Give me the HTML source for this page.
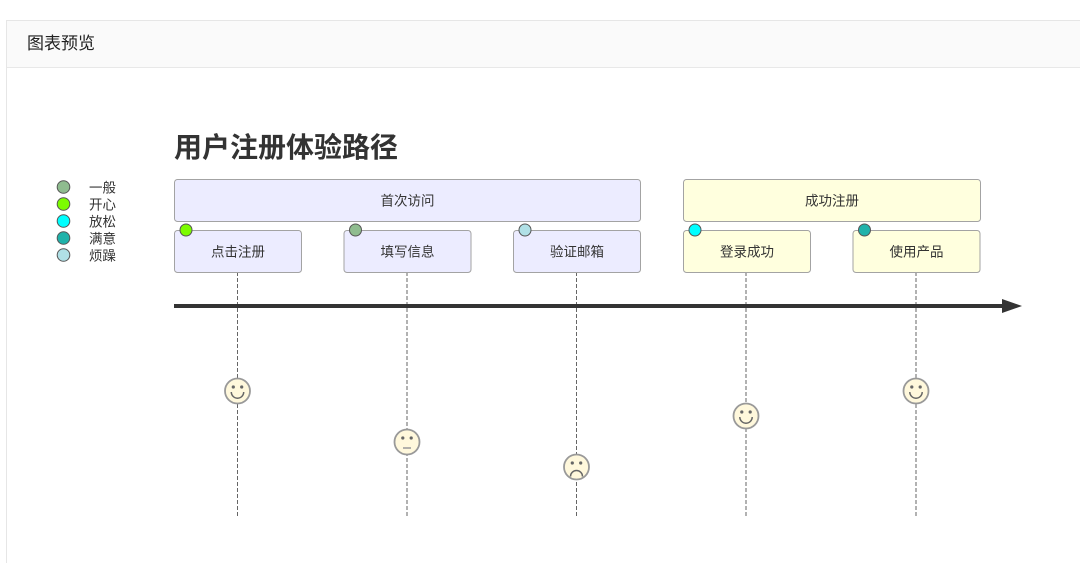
<!DOCTYPE html>
<html>
<head>
<meta charset="utf-8">
<style>
  html,body{margin:0;padding:0;background:#fff;width:1080px;height:563px;overflow:hidden;}
  body{position:relative;font-family:"Liberation Sans","Noto Sans CJK SC",sans-serif;}
  .panel{position:absolute;left:6px;top:20px;width:1100px;height:543px;border:1px solid #e6e6e6;border-bottom:none;background:#fff;box-sizing:border-box;}
  .hdr{position:absolute;left:0;top:0;right:0;height:46px;background:#fafafa;border-bottom:1px solid #e8e8e8;}
  .hdr span{position:absolute;left:20px;top:12px;font-size:17px;color:#222;line-height:22px;}
  svg{position:absolute;left:0;top:0;}
  text{font-family:"Liberation Sans","Noto Sans CJK SC",sans-serif;}
</style>
</head>
<body>
<div class="panel"><div class="hdr"><span>图表预览</span></div></div>
<svg width="1080" height="563" viewBox="0 0 1080 563" xmlns="http://www.w3.org/2000/svg">
  <!-- title -->
  <text x="174" y="157" font-size="28" font-weight="bold" fill="#333">用户注册体验路径</text>

  <!-- legend -->
  <g stroke="#555" stroke-width="1">
    <circle cx="63.5" cy="187" r="6.3" fill="#8fbc8f"/>
    <circle cx="63.5" cy="204" r="6.3" fill="#7cfc00"/>
    <circle cx="63.5" cy="221" r="6.3" fill="#00ffff"/>
    <circle cx="63.5" cy="238" r="6.3" fill="#20b2aa"/>
    <circle cx="63.5" cy="255" r="6.3" fill="#b0e0e6"/>
  </g>
  <g font-size="13.5" fill="#333" dominant-baseline="central">
    <text x="89" y="188">一般</text>
    <text x="89" y="205">开心</text>
    <text x="89" y="222">放松</text>
    <text x="89" y="239">满意</text>
    <text x="89" y="256">烦躁</text>
  </g>

  <!-- dashed vertical lines -->
  <g stroke="#666" stroke-width="1" stroke-dasharray="4 2">
    <line x1="237.5" y1="272" x2="237.5" y2="518"/>
    <line x1="407" y1="272" x2="407" y2="518"/>
    <line x1="576.5" y1="272" x2="576.5" y2="518"/>
    <line x1="746" y1="272" x2="746" y2="518"/>
    <line x1="916" y1="272" x2="916" y2="518"/>
  </g>

  <!-- sections -->
  <rect x="174.5" y="179.5" width="466" height="42" rx="3" fill="#ececff" stroke="#a3a3a3"/>
  <rect x="683.5" y="179.5" width="297" height="42" rx="3" fill="#ffffde" stroke="#a3a3a3"/>
  <g font-size="13.5" fill="#333" text-anchor="middle" dominant-baseline="central">
    <text x="407.5" y="201">首次访问</text>
    <text x="832" y="201">成功注册</text>
  </g>

  <!-- tasks -->
  <g stroke="#a3a3a3">
    <rect x="174.5" y="230.5" width="127" height="42" rx="3" fill="#ececff"/>
    <rect x="344" y="230.5" width="127" height="42" rx="3" fill="#ececff"/>
    <rect x="513.5" y="230.5" width="127" height="42" rx="3" fill="#ececff"/>
    <rect x="683.5" y="230.5" width="127" height="42" rx="3" fill="#ffffde"/>
    <rect x="853" y="230.5" width="127" height="42" rx="3" fill="#ffffde"/>
  </g>
  <g font-size="13.5" fill="#333" text-anchor="middle" dominant-baseline="central">
    <text x="238" y="252">点击注册</text>
    <text x="407.5" y="252">填写信息</text>
    <text x="577" y="252">验证邮箱</text>
    <text x="747" y="252">登录成功</text>
    <text x="916.5" y="252">使用产品</text>
  </g>
  <g stroke="#555" stroke-width="1">
    <circle cx="186" cy="230" r="6" fill="#7cfc00"/>
    <circle cx="355.5" cy="230" r="6" fill="#8fbc8f"/>
    <circle cx="525" cy="230" r="6" fill="#b0e0e6"/>
    <circle cx="695" cy="230" r="6" fill="#00ffff"/>
    <circle cx="864.5" cy="230" r="6" fill="#20b2aa"/>
  </g>

  <!-- main arrow -->
  <line x1="174" y1="306" x2="1004" y2="306" stroke="#333" stroke-width="4"/>
  <polygon points="1002,299 1022,306 1002,313" fill="#333"/>

  <!-- faces -->
  <g stroke="#999" stroke-width="1.8" fill="#fff8dc">
    <circle cx="237.5" cy="391" r="12.5"/>
    <circle cx="407" cy="442" r="12.5"/>
    <circle cx="576.5" cy="467" r="12.5"/>
    <circle cx="746" cy="416" r="12.5"/>
    <circle cx="916" cy="391" r="12.5"/>
  </g>
  <g fill="#666">
    <circle cx="233.3" cy="387" r="1.6"/><circle cx="241.7" cy="387" r="1.6"/>
    <circle cx="402.8" cy="438" r="1.6"/><circle cx="411.2" cy="438" r="1.6"/>
    <circle cx="572.3" cy="463" r="1.6"/><circle cx="580.7" cy="463" r="1.6"/>
    <circle cx="741.8" cy="412" r="1.6"/><circle cx="750.2" cy="412" r="1.6"/>
    <circle cx="911.8" cy="387" r="1.6"/><circle cx="920.2" cy="387" r="1.6"/>
  </g>
  <g stroke="#666" stroke-width="1.5" fill="none">
    <path d="M231.3 392 A6.2 6.2 0 0 0 243.7 392"/>
    <line x1="403" y1="448" x2="411" y2="448" stroke="#999"/>
    <path d="M570.5 476.5 A6 6 0 0 1 582.5 476.5"/>
    <path d="M739.8 417 A6.2 6.2 0 0 0 752.2 417"/>
    <path d="M909.8 392 A6.2 6.2 0 0 0 922.2 392"/>
  </g>
</svg>
</body>
</html>
